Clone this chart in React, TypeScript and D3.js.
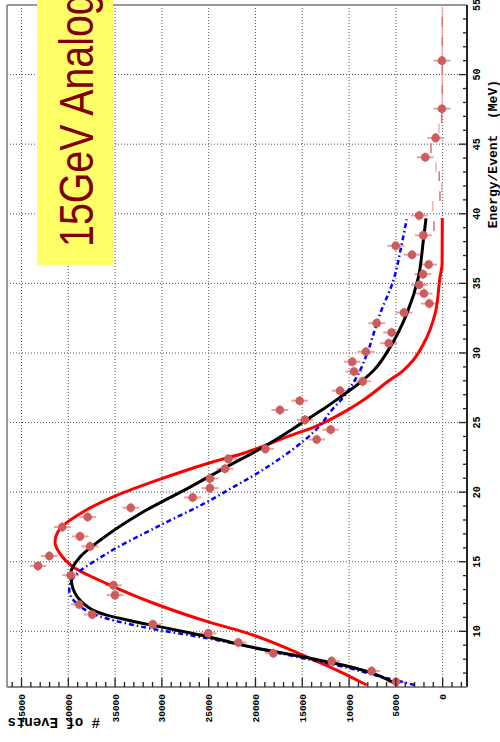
import React from 'react';
import * as d3 from 'd3';

const W = 500;
const H = 742;

// axis ticks
const energyMajor = [10, 15, 20, 25, 30, 35, 40, 45, 50, 55];
const energyMinor = d3.range(7, 55, 1);
const countMajor = [0, 5000, 10000, 15000, 20000, 25000, 30000, 35000, 40000, 45000];
const countMinor = d3.range(-2000, 46001, 1000);
const countLabels = ['0', '5000', '10000', '15000', '20000', '25000', '30000', '35000', '40000', '45000'];

// data points (energy in MeV, number of events)
const ptEnergy = [6.38, 7.15, 7.86, 8.42, 9.2, 9.85, 10.5, 11.21, 11.93, 12.6, 13.31, 14.03, 14.7, 15.41, 16.1, 16.82, 17.49, 18.21, 18.88, 19.62, 20.29, 20.98, 21.68, 22.39, 23.11, 23.78, 24.49, 25.19, 25.9, 26.57, 27.29, 27.96, 28.67, 29.37, 30.09, 30.7, 31.47, 32.14, 32.9, 33.55, 34.27, 34.9, 35.66, 36.35, 37.06, 37.7, 38.45, 39.88, 44.06, 45.45, 47.55, 51.0];
const ptCount = [4990, 7590, 11860, 18100, 21840, 25040, 30980, 37440, 38830, 35010, 35190, 39740, 43240, 42030, 37680, 38750, 40640, 37930, 33330, 26710, 24860, 24860, 23260, 22900, 18950, 13460, 11970, 14710, 17390, 15280, 10970, 8550, 9480, 9660, 8200, 5770, 5450, 7050, 4130, 1430, 2000, 2500, 2100, 1500, 3280, 5020, 2070, 2500, 1860, 750, 75, 75];

// bins drawn without marker (energy error bar only)
const dashEnergy = [39.12, 40.56, 41.27, 41.91, 42.7, 43.35, 44.71, 46.14, 46.86, 48.25, 48.95, 49.6, 50.3, 51.7, 52.4, 53.1, 53.8, 54.5];
const dashCount = [930, 1068, 288, 107, 363, 716, 1250, 395, 107, 50, 50, 50, 50, 50, 50, 50, 50, 50];

const binHalfWidth = 0.35;
const countError = 900;

// fitted curves
const redE = [6.14, 7.22, 8.06, 9.96, 10.68, 12.0, 13.43, 14.62, 15.58, 16.41, 17.37, 18.45, 19.76, 20.84, 22.04, 22.87, 24.06, 24.66, 25.86, 26.6, 28.0, 28.72, 29.44, 31.1, 32.79, 35.41, 36.4, 39.7];
const redC = [8120, 11330, 14180, 21300, 25040, 30800, 35900, 39470, 40890, 41420, 40890, 38750, 34830, 30560, 25210, 20940, 16310, 13820, 10260, 8500, 5750, 4250, 3200, 1710, 820, 290, 60, 40];

const blackE = [6.14, 7.46, 8.06, 8.89, 9.61, 10.5, 11.16, 12.24, 13.43, 14.15, 15.34, 16.54, 18.45, 20.36, 21.7, 23.3, 24.5, 25.3, 25.86, 26.81, 28.0, 28.72, 30.4, 32.79, 35.41, 38.04, 39.67];
const blackC = [4740, 9900, 14180, 20590, 25040, 31500, 35900, 38750, 39640, 39740, 38750, 36610, 32340, 27000, 23400, 19000, 16100, 14300, 13000, 10970, 8600, 7410, 5630, 3850, 2600, 2070, 1780];

const blueE = [6.14, 6.7, 7.34, 8.17, 8.89, 9.49, 10.21, 10.92, 12.0, 12.95, 13.67, 15.58, 17.49, 19.28, 20.24, 21.08, 22.75, 24.78, 25.86, 26.81, 27.7, 28.72, 29.92, 32.79, 35.18, 37.8, 39.6];
const blueC = [2960, 6350, 9900, 15600, 20590, 25040, 31260, 35900, 39100, 39900, 39640, 35900, 30560, 25210, 22700, 20500, 16670, 13110, 11900, 10620, 9700, 8840, 8100, 6700, 5280, 4380, 3850];

const PLOT = { left: 7, right: 467, top: 5, bottom: 687 };

export default function App() {
  const yE = d3.scaleLinear().domain([6, 55]).range([PLOT.bottom, PLOT.top]);
  const xC = d3.scaleLinear().domain([-2600, 46550]).range([PLOT.right, PLOT.left]);

  const line = d3
    .line<[number, number]>()
    .x((d) => xC(d[1]))
    .y((d) => yE(d[0]))
    .curve(d3.curveMonotoneY);

  const zip = (a: number[], b: number[]) => a.map((v, i) => [v, b[i]] as [number, number]);

  const mono = "'Liberation Mono', 'DejaVu Sans Mono', monospace";

  return (
    <svg
      width={W}
      height={H}
      style={{ position: 'absolute', left: 0, top: 0, background: '#fff' }}
      xmlns="http://www.w3.org/2000/svg"
    >
      <defs>
        <clipPath id="plotclip">
          <rect x={PLOT.left} y={PLOT.top} width={PLOT.right - PLOT.left} height={PLOT.bottom - PLOT.top} />
        </clipPath>
      </defs>
      <rect x={0} y={0} width={W} height={H} fill="#fff" />

      {/* grid */}
      <g stroke="#555" strokeWidth={1} strokeDasharray="1 2">
        {energyMajor.filter((e) => e < 55).map((e) => (
          <line key={'ge' + e} x1={PLOT.left} x2={PLOT.right} y1={yE(e)} y2={yE(e)} />
        ))}
        {countMajor.map((c) => (
          <line key={'gc' + c} x1={xC(c)} x2={xC(c)} y1={PLOT.top} y2={PLOT.bottom} />
        ))}
      </g>

      {/* frame */}
      <line x1={PLOT.left} x2={PLOT.right} y1={PLOT.top} y2={PLOT.top} stroke="#999" strokeWidth={2} />
      <line x1={PLOT.left} x2={PLOT.left} y1={PLOT.top} y2={PLOT.bottom} stroke="#999" strokeWidth={2} />

      <g clipPath="url(#plotclip)">
        {/* bins without marker */}
        {dashEnergy.map((e, i) => (
          <line
            key={'d' + i}
            x1={xC(dashCount[i])}
            x2={xC(dashCount[i])}
            y1={yE(e - binHalfWidth)}
            y2={yE(e + binHalfWidth)}
            stroke={i % 2 === 0 ? '#e07070' : '#f0b0b0'}
            strokeWidth={1.5}
          />
        ))}

        {/* error bars */}
        {ptEnergy.map((e, i) => (
          <g key={'eb' + i} stroke="#eba0a0" strokeWidth={2}>
            <line
              x1={xC(ptCount[i] - countError)}
              x2={xC(ptCount[i] + countError)}
              y1={yE(e)}
              y2={yE(e)}
            />
            <line x1={xC(ptCount[i])} x2={xC(ptCount[i])} y1={yE(e - binHalfWidth)} y2={yE(e + binHalfWidth)} />
          </g>
        ))}

        {/* curves */}
        <path d={line(zip(redE, redC)) || ''} fill="none" stroke="#ff0000" strokeWidth={3} />
        <path
          d={line(zip(blueE, blueC)) || ''}
          fill="none"
          stroke="#0000ff"
          strokeWidth={2.5}
          strokeDasharray="5 3 1.5 3"
        />
        <path d={line(zip(blackE, blackC)) || ''} fill="none" stroke="#000" strokeWidth={3} />

        {/* markers */}
        {ptEnergy.map((e, i) => (
          <circle key={'p' + i} cx={xC(ptCount[i])} cy={yE(e)} r={4.3} fill="#cd5c5c" />
        ))}
      </g>

      {/* right axis (energy) */}
      <line x1={PLOT.right} x2={PLOT.right} y1={PLOT.top} y2={PLOT.bottom} stroke="#222" strokeWidth={2} />
      <g stroke="#222" strokeWidth={1.3}>
        {energyMinor.map((e) => (
          <line
            key={'te' + e}
            x1={PLOT.right}
            x2={PLOT.right - (e % 5 === 0 ? 8 : 4)}
            y1={yE(e)}
            y2={yE(e)}
          />
        ))}
      </g>
      {energyMajor.map((e) => (
        <text
          key={'le' + e}
          transform={`translate(480,${yE(e)}) rotate(-90)`}
          textAnchor="middle"
          fontSize={10}
          fontWeight="bold"
          fontFamily={mono}
          fill="#000"
        >
          {e}
        </text>
      ))}
      <text
        transform="translate(497,80) rotate(-90)"
        textAnchor="end"
        fontSize={13}
        fontWeight="bold"
        fontFamily={mono}
        style={{ whiteSpace: 'pre' }}
        fill="#000"
      >
        {'Energy/Event  (MeV)'}
      </text>

      {/* bottom axis (counts) */}
      <line x1={PLOT.left} x2={PLOT.right} y1={PLOT.bottom} y2={PLOT.bottom} stroke="#888" strokeWidth={2} />
      <g stroke="#222" strokeWidth={1.3}>
        {countMinor.map((c) => (
          <line
            key={'tc' + c}
            x1={xC(c)}
            x2={xC(c)}
            y1={PLOT.bottom}
            y2={PLOT.bottom - (c % 5000 === 0 ? 9 : 5)}
          />
        ))}
      </g>
      {countMajor.map((c, i) => (
        <text
          key={'lc' + c}
          transform={`translate(${xC(c) + 3.5},694) rotate(-90)`}
          textAnchor="end"
          fontSize={9.5}
          fontWeight="bold"
          fontFamily={mono}
          fill="#000"
        >
          {countLabels[i]}
        </text>
      ))}
      <text
        transform="translate(100,718) rotate(180)"
        textAnchor="start"
        fontSize={14}
        fontWeight="bold"
        fontFamily={mono}
        fill="#000"
      >
        # of Events
      </text>

      {/* label box */}
      <rect x={37} y={-10} width={76} height={275} fill="#ffff66" />
      <text
        transform="translate(93,247) rotate(-90) scale(0.82,1)"
        textAnchor="start"
        fontSize={48}
        fontFamily="'Liberation Sans', Arial, sans-serif"
        fill="#800000"
      >
        15GeV Analog
      </text>
    </svg>
  );
}
